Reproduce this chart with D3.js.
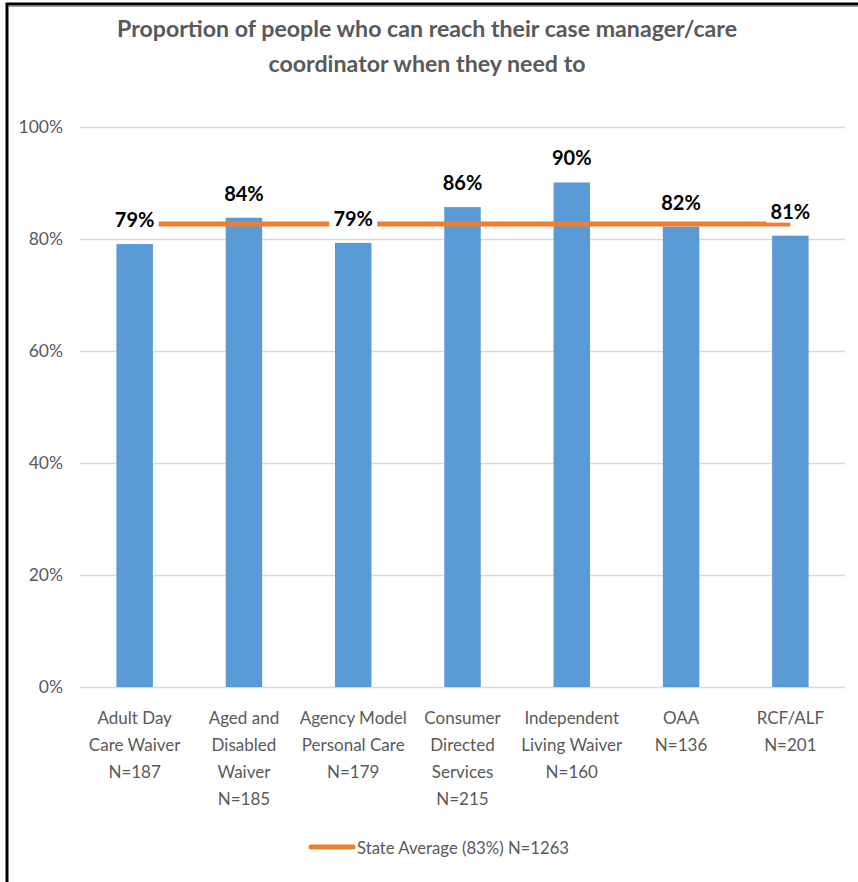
<!DOCTYPE html>
<html>
<head>
<meta charset="utf-8">
<script src="https://cdn.jsdelivr.net/npm/d3@7"></script>
<style>
  html, body { margin: 0; padding: 0; background: #fff; }
  svg { display: block; }
  text { font-family: Lato, "Open Sans", sans-serif; }
</style>
</head>
<body>
<svg id="chart" width="858" height="882"></svg>
<script>
// Program categories, wrapped the way they appear under the axis
const categories = [
  "Adult Day Care Waiver",
  "Aged and Disabled Waiver",
  "Agency Model Personal Care",
  "Consumer Directed Services",
  "Independent Living Waiver",
  "OAA",
  "RCF/ALF"
];
const categoryLines = [
  ["Adult Day", "Care Waiver"],
  ["Aged and", "Disabled", "Waiver"],
  ["Agency Model", "Personal Care"],
  ["Consumer", "Directed", "Services"],
  ["Independent", "Living Waiver"],
  ["OAA"],
  ["RCF/ALF"]
];
const sampleSizes = [187, 185, 179, 215, 160, 136, 201];
// Share of people who can reach their case manager (percent)
const values = [79.1, 83.8, 79.3, 85.7, 90.1, 82.2, 80.6];
const stateAverage = 82.7;
const stateN = 1263;
const yTicks = [0, 20, 40, 60, 80, 100];
const titleLines = [
  "Proportion of people who can reach their case manager/care",
  "coordinator when they need to"
];

const svg = d3.select("#chart");
const BAR = "#5B9BD5", AVG = "#ED7D31", GRID = "#D9D9D9", TXT = "#595959";

// Frame
svg.append("path")
  .attr("d", "M7,882 L7,4 L858,4")
  .attr("fill", "none").attr("stroke", "#000").attr("stroke-width", 3);
svg.append("line").attr("x1", 9).attr("x2", 858).attr("y1", 6.5).attr("y2", 6.5)
  .attr("stroke", "#9a9a9a").attr("stroke-width", 1);

// Scales
const x = d3.scaleBand().domain(categories).range([80, 845])
  .paddingInner(0.666).paddingOuter(0.333);
const y = d3.scaleLinear().domain([0, 100]).range([687, 127]);

// Fit a text element to a target width
function fit(sel, w) {
  sel.attr("textLength", w).attr("lengthAdjust", "spacingAndGlyphs");
}

// Title
const titleW = [620, 317];
titleLines.forEach((t, i) => {
  svg.append("text")
    .attr("x", 427).attr("y", 28 + i * 35)
    .attr("text-anchor", "middle").attr("dominant-baseline", "central")
    .attr("font-size", 23).attr("font-weight", 700).attr("fill", TXT)
    .text(t).call(fit, titleW[i]);
});

// Y axis with gridlines
const yAxis = d3.axisLeft(y).tickValues(yTicks)
  .tickSize(-(845 - 80)).tickPadding(17)
  .tickFormat(d => d + "%");
const gy = svg.append("g").attr("transform", "translate(80,0)").call(yAxis);
gy.select(".domain").remove();
gy.selectAll(".tick line").attr("stroke", GRID).attr("stroke-width", 1.3);
gy.selectAll(".tick text")
  .attr("font-size", 17.5).attr("fill", TXT)
  .attr("font-family", "Lato, sans-serif");

// Bars
svg.append("g").selectAll("rect").data(values).join("rect")
  .attr("x", (d, i) => x(categories[i]))
  .attr("width", x.bandwidth())
  .attr("y", d => y(d))
  .attr("height", d => y(0) - y(d))
  .attr("fill", BAR);

// State average line across the category centres
const cx = c => x(c) + x.bandwidth() / 2;
svg.append("line")
  .attr("x1", cx(categories[0])).attr("x2", cx(categories[categories.length - 1]))
  .attr("y1", y(stateAverage)).attr("y2", y(stateAverage))
  .attr("stroke", AVG).attr("stroke-width", 5);

// Data labels on a white box
const lab = svg.append("g").selectAll("g").data(values).join("g")
  .attr("transform", (d, i) => `translate(${cx(categories[i])},${y(d) - 25})`);
lab.append("rect")
  .attr("x", -24).attr("y", -12).attr("width", 48).attr("height", 24)
  .attr("fill", "#fff");
lab.append("text")
  .attr("text-anchor", "middle").attr("dominant-baseline", "central")
  .attr("font-size", 20).attr("font-weight", 700).attr("fill", "#000")
  .text(d => Math.round(d) + "%");

// Category labels
const xl = svg.append("g").selectAll("text").data(categories).join("text")
  .attr("x", d => cx(d))
  .attr("text-anchor", "middle").attr("font-size", 17).attr("fill", TXT);
xl.each(function (d, i) {
  const lines = categoryLines[i].concat(["N=" + sampleSizes[i]]);
  d3.select(this).selectAll("tspan").data(lines).join("tspan")
    .attr("x", cx(d))
    .attr("y", (l, j) => 717 + j * 27)
    .attr("dominant-baseline", "central")
    .text(l => l);
});

// Legend
svg.append("line").attr("x1", 311).attr("x2", 353).attr("y1", 847).attr("y2", 847)
  .attr("stroke", AVG).attr("stroke-width", 5).attr("stroke-linecap", "round");
svg.append("text").attr("x", 357).attr("y", 847)
  .attr("dominant-baseline", "central").attr("font-size", 17).attr("fill", TXT)
  .text(`State Average (${Math.round(stateAverage)}%) N=${stateN}`)
  .call(fit, 212);
</script>
</body>
</html>
